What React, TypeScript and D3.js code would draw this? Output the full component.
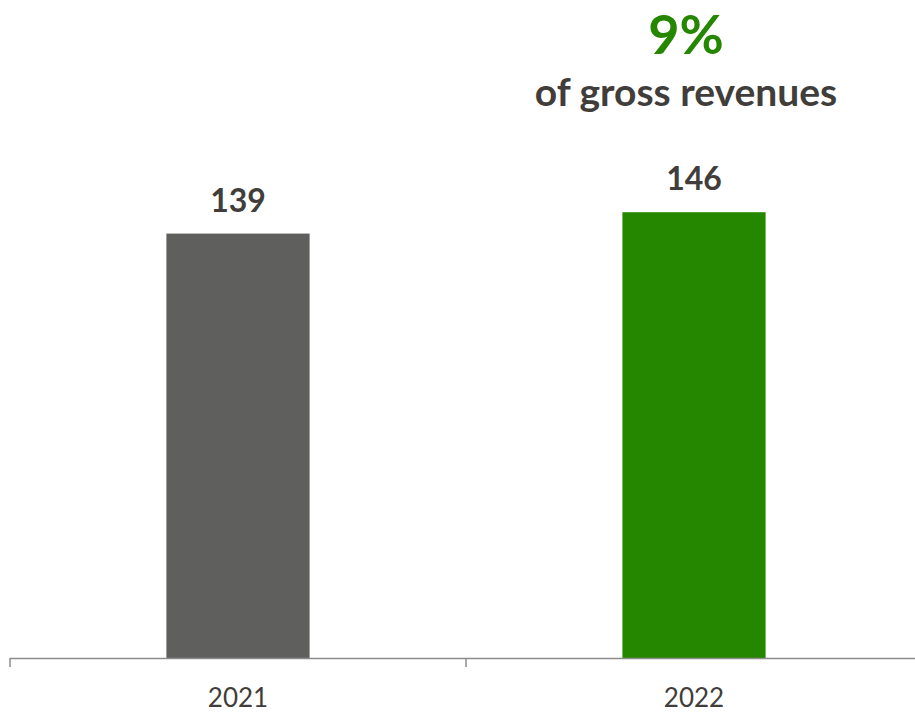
import { useEffect, useRef } from 'react'
import * as d3 from 'd3'

const years = ['2021', '2022']
const values = [139, 146]
const barColors = ['#5f5f5e', '#258600']
const highlightPct = '9%'
const highlightText = 'of gross revenues'

const W = 915, H = 712
const BASE = 658
const FONT = 'Lato, "Open Sans", sans-serif'
const TEXT = '#403d3a'

export default function App() {
  const svgRef = useRef<SVGSVGElement>(null)

  useEffect(() => {
    const svg = d3.select(svgRef.current)
    svg.selectAll('*').remove()

    const x = d3.scaleBand().domain(years).range([10, 922]).padding(0)
    const y = d3.scaleLinear().domain([0, 215.5]).range([BASE, 0])
    const bw = x.bandwidth() * 0.314

    const g = svg.append('g')

    // bars
    g.selectAll('rect.bar')
      .data(years)
      .join('rect')
      .attr('class', 'bar')
      .attr('x', (d) => x(d)! + x.bandwidth() / 2 - bw / 2)
      .attr('width', bw)
      .attr('y', (_, i) => y(values[i]))
      .attr('height', (_, i) => BASE - y(values[i]))
      .attr('fill', (_, i) => barColors[i])

    // value labels
    g.selectAll('text.val')
      .data(years)
      .join('text')
      .attr('class', 'val')
      .attr('x', (d) => x(d)! + x.bandwidth() / 2)
      .attr('y', (_, i) => y(values[i]) - 22)
      .attr('text-anchor', 'middle')
      .attr('font-family', FONT).attr('font-weight', 700).attr('font-size', 32)
      .attr('fill', TEXT)
      .text((_, i) => values[i])

    // axis
    g.append('line')
      .attr('x1', 10).attr('x2', W)
      .attr('y1', BASE + 0.5).attr('y2', BASE + 0.5)
      .attr('stroke', '#8c8c8c').attr('stroke-width', 1.5)

    const ticks = [...years.map((d) => x(d)!), x.range()[1]]
    g.selectAll('line.tick')
      .data(ticks)
      .join('line')
      .attr('class', 'tick')
      .attr('x1', (d) => d).attr('x2', (d) => d)
      .attr('y1', BASE).attr('y2', BASE + 9)
      .attr('stroke', '#8c8c8c').attr('stroke-width', 1.5)

    g.selectAll('text.cat')
      .data(years)
      .join('text')
      .attr('class', 'cat')
      .attr('x', (d) => x(d)! + x.bandwidth() / 2)
      .attr('y', 707)
      .attr('text-anchor', 'middle')
      .attr('font-family', FONT).attr('font-size', 26)
      .attr('fill', TEXT)
      .text((d) => d)

    // highlight over last bar
    const cx = x(years[years.length - 1])! + x.bandwidth() / 2
    g.append('text')
      .attr('x', cx - 8).attr('y', 54)
      .attr('text-anchor', 'middle')
      .attr('font-family', FONT).attr('font-weight', 700).attr('font-size', 54)
      .attr('fill', barColors[1])
      .text(highlightPct)

    g.append('text')
      .attr('x', cx - 8).attr('y', 106)
      .attr('text-anchor', 'middle')
      .attr('font-family', FONT).attr('font-weight', 700).attr('font-size', 39)
      .attr('fill', TEXT)
      .text(highlightText)
  }, [])

  return (
    <svg
      ref={svgRef}
      width={W}
      height={H}
      viewBox={`0 0 ${W} ${H}`}
      style={{ position: 'absolute', left: 0, top: 0, background: '#fff' }}
    />
  )
}
